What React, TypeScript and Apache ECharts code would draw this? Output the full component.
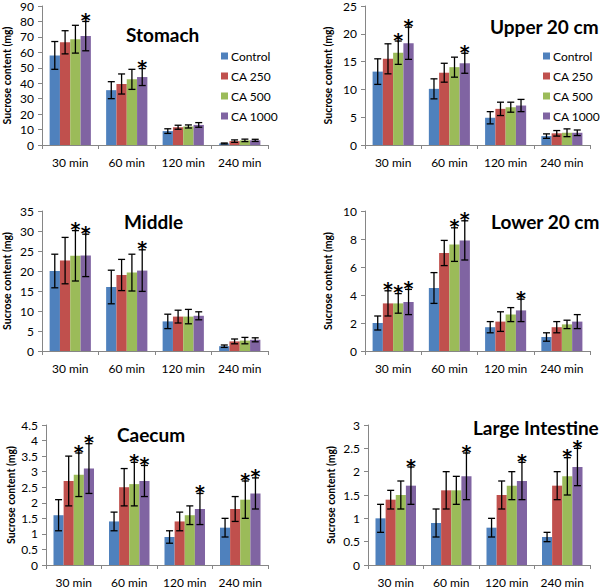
import React, { useEffect, useRef } from "react";
import * as echarts from "echarts";

const categories = ["30 min", "60 min", "120 min", "240 min"];
const seriesNames = ["Control", "CA 250", "CA 500", "CA 1000"];
const colors = ["#4F81BD", "#C0504D", "#9BBB59", "#8064A2"];
const yAxisName = "Sucrose content (mg)";

// rows = series (Control, CA 250, CA 500, CA 1000), columns = categories
const stomachMeans = [[58, 35.5, 9, 1], [66.5, 39.5, 11.5, 2.5], [68.5, 42.5, 12, 3], [70.5, 44, 13, 3]];
const stomachErrors = [[9, 5.5, 1.5, 0.3], [7.5, 6.5, 1.3, 0.8], [9, 6.5, 1, 0.8], [9.5, 5.5, 1.5, 0.7]];
const stomachStars = [[0, 0, 0, 0], [0, 0, 0, 0], [0, 0, 0, 0], [1, 1, 0, 0]];

const upperMeans = [[13.2, 10.1, 4.9, 1.6], [15.5, 13, 6.5, 2.1], [16.6, 14, 6.8, 2.2], [18.3, 14.7, 7.1, 2.2]];
const upperErrors = [[2.3, 1.8, 1.1, 0.4], [2.7, 1.7, 1.2, 0.5], [2.1, 1.8, 0.9, 0.7], [2.9, 1.8, 1.1, 0.5]];
const upperStars = [[0, 0, 0, 0], [0, 0, 0, 0], [1, 0, 0, 0], [1, 1, 0, 0]];

const middleMeans = [[20, 16, 7.4, 1.2], [22.6, 19, 8.6, 2.4], [23.8, 19.6, 8.6, 2.6], [23.9, 20.1, 8.8, 2.8]];
const middleErrors = [[4.2, 4.2, 1.8, 0.3], [5.8, 3.9, 1.6, 0.6], [6.3, 4.6, 1.8, 0.8], [5.3, 5.2, 1, 0.5]];
const middleStars = [[0, 0, 0, 0], [0, 0, 0, 0], [1, 0, 0, 0], [1, 1, 0, 0]];

const lowerMeans = [[2, 4.5, 1.7, 1], [3.4, 7, 2.1, 1.7], [3.4, 7.6, 2.6, 1.9], [3.5, 7.9, 2.9, 2.1]];
const lowerErrors = [[0.5, 1.1, 0.4, 0.3], [0.9, 0.9, 0.7, 0.4], [0.7, 1.2, 0.5, 0.3], [0.9, 1.4, 0.8, 0.5]];
const lowerStars = [[0, 0, 0, 0], [1, 0, 0, 0], [1, 1, 0, 0], [1, 1, 1, 0]];

const caecumMeans = [[1.6, 1.4, 0.9, 1.2], [2.7, 2.5, 1.4, 1.8], [2.9, 2.6, 1.6, 2.1], [3.1, 2.7, 1.8, 2.3]];
const caecumErrors = [[0.5, 0.3, 0.2, 0.3], [0.8, 0.6, 0.3, 0.4], [0.7, 0.7, 0.3, 0.6], [0.8, 0.5, 0.5, 0.5]];
const caecumStars = [[0, 0, 0, 0], [0, 0, 0, 0], [1, 1, 0, 1], [1, 1, 1, 1]];

const largeMeans = [[1.0, 0.9, 0.8, 0.6], [1.4, 1.6, 1.5, 1.7], [1.5, 1.6, 1.7, 1.9], [1.7, 1.9, 1.8, 2.1]];
const largeErrors = [[0.3, 0.3, 0.2, 0.1], [0.2, 0.4, 0.3, 0.3], [0.3, 0.3, 0.3, 0.4], [0.4, 0.5, 0.4, 0.4]];
const largeStars = [[0, 0, 0, 0], [0, 0, 0, 0], [0, 0, 0, 1], [1, 1, 1, 1]];

const panelTitles = ["Stomach", "Upper 20 cm", "Middle", "Lower 20 cm", "Caecum", "Large Intestine"];
const yMaxes = [90, 25, 35, 10, 4.5, 3];
const yIntervals = [10, 5, 5, 2, 0.5, 0.5];

const panels = [
  { title: panelTitles[0], means: stomachMeans, errors: stomachErrors, stars: stomachStars, yMax: yMaxes[0], interval: yIntervals[0] },
  { title: panelTitles[1], means: upperMeans, errors: upperErrors, stars: upperStars, yMax: yMaxes[1], interval: yIntervals[1] },
  { title: panelTitles[2], means: middleMeans, errors: middleErrors, stars: middleStars, yMax: yMaxes[2], interval: yIntervals[2] },
  { title: panelTitles[3], means: lowerMeans, errors: lowerErrors, stars: lowerStars, yMax: yMaxes[3], interval: yIntervals[3] },
  { title: panelTitles[4], means: caecumMeans, errors: caecumErrors, stars: caecumStars, yMax: yMaxes[4], interval: yIntervals[4] },
  { title: panelTitles[5], means: largeMeans, errors: largeErrors, stars: largeStars, yMax: yMaxes[5], interval: yIntervals[5] },
];

// layout only
const grids = [
  { left: 42, top: 4, width: 226, height: 141 },
  { left: 365, top: 5, width: 225, height: 140 },
  { left: 42, top: 211, width: 226, height: 140 },
  { left: 365, top: 211, width: 225, height: 140 },
  { left: 46, top: 425, width: 222, height: 140 },
  { left: 368, top: 425, width: 222, height: 140 },
];
const titlePos = [
  { left: 126, top: 25 },
  { left: 490, top: 17 },
  { left: 124, top: 212 },
  { left: 491, top: 212 },
  { left: 117, top: 425 },
  { left: 473, top: 418 },
];

const FONT = "Lato";
const BAR_CAT_GAP = 0.27;

export default function App() {
  const ref = useRef<HTMLDivElement>(null);
  useEffect(() => {
    if (!ref.current) return;
    const chart = echarts.init(ref.current, undefined, { renderer: "svg" });

    const series: any[] = [];
    panels.forEach((p, gi) => {
      p.means.forEach((vals, si) => {
        series.push({
          type: "bar",
          name: seriesNames[si],
          xAxisIndex: gi,
          yAxisIndex: gi,
          data: vals,
          barGap: "0%",
          barCategoryGap: BAR_CAT_GAP * 100 + "%",
          itemStyle: { color: colors[si] },
        });
      });
      const errData: number[][] = [];
      p.means.forEach((vals, si) => {
        vals.forEach((v, ci) => {
          errData.push([ci, v, p.errors[si][ci], p.stars[si][ci], si]);
        });
      });
      series.push({
        type: "custom",
        name: "err" + gi,
        xAxisIndex: gi,
        yAxisIndex: gi,
        clip: false,
        z: 10,
        encode: { x: 0, y: 1 },
        data: errData,
        renderItem: (params: any, api: any) => {
          const ci = api.value(0);
          const mean = api.value(1);
          const err = api.value(2);
          const star = api.value(3);
          const si = api.value(4);
          const band = api.size([1, 0])[0];
          const bw = (band * (1 - BAR_CAT_GAP)) / 4;
          const top = api.coord([ci, mean + err]);
          const bot = api.coord([ci, mean - err]);
          const x = top[0] + (si - 1.5) * bw;
          const cap = 3.5;
          const st = { stroke: "#000", lineWidth: 1.3 };
          const children: any[] = [
            { type: "line", shape: { x1: x, y1: top[1], x2: x, y2: bot[1] }, style: st },
            { type: "line", shape: { x1: x - cap, y1: top[1], x2: x + cap, y2: top[1] }, style: st },
            { type: "line", shape: { x1: x - cap, y1: bot[1], x2: x + cap, y2: bot[1] }, style: st },
          ];
          if (star) {
            children.push({
              type: "text",
              style: {
                text: "*",
                x: x,
                y: top[1] + 8,
                align: "center",
                verticalAlign: "bottom",
                fontSize: 19,
                fontWeight: "bold",
                fontFamily: "DejaVu Sans",
                fill: "#000",
              },
            });
          }
          return { type: "group", children };
        },
      });
    });

    const option: any = {
      animation: false,
      textStyle: { fontFamily: FONT },
      title: panels.map((p, i) => ({
        text: p.title,
        left: titlePos[i].left,
        top: titlePos[i].top,
        padding: 0,
        textStyle: { fontSize: 19, fontWeight: "bold", color: "#000", fontFamily: FONT },
      })),
      legend: [
        { data: seriesNames, left: 221, top: 50 },
        { data: seriesNames, left: 543, top: 50 },
      ].map((l) => ({
        ...l,
        orient: "vertical",
        itemWidth: 7,
        itemHeight: 7,
        itemGap: 8,
        icon: "rect",
        padding: 0,
        selectedMode: false,
        textStyle: { fontSize: 12, color: "#000", fontFamily: FONT, padding: [0, 0, 0, -2] },
      })),
      grid: grids.map((g) => ({ ...g, containLabel: false })),
      xAxis: panels.map((_, i) => ({
        type: "category",
        gridIndex: i,
        data: categories,
        axisLine: { lineStyle: { color: "#868686", width: 1 } },
        axisTick: { show: true, length: 4, lineStyle: { color: "#868686" } },
        axisLabel: { color: "#000", fontSize: 12, margin: 11, interval: 0, fontFamily: FONT },
        splitLine: { show: false },
      })),
      yAxis: panels.map((p, i) => ({
        type: "value",
        gridIndex: i,
        min: 0,
        max: p.yMax,
        interval: p.interval,
        name: yAxisName,
        nameLocation: "middle",
        nameRotate: 90,
        nameGap: i % 2 === 0 ? 30 : 32,
        nameTextStyle: { fontSize: 10.5, fontWeight: "bold", color: "#000", fontFamily: FONT },
        axisLine: { show: true, lineStyle: { color: "#868686", width: 1 } },
        axisTick: { show: true, length: 4, lineStyle: { color: "#868686" } },
        axisLabel: { color: "#000", fontSize: 12, margin: 8, fontFamily: FONT },
        splitLine: { show: false },
      })),
      series,
    };
    chart.setOption(option);
    return () => chart.dispose();
  }, []);

  return (
    <div
      ref={ref}
      style={{ position: "fixed", left: 0, top: 0, width: 600, height: 588, background: "#fff" }}
    />
  );
}
